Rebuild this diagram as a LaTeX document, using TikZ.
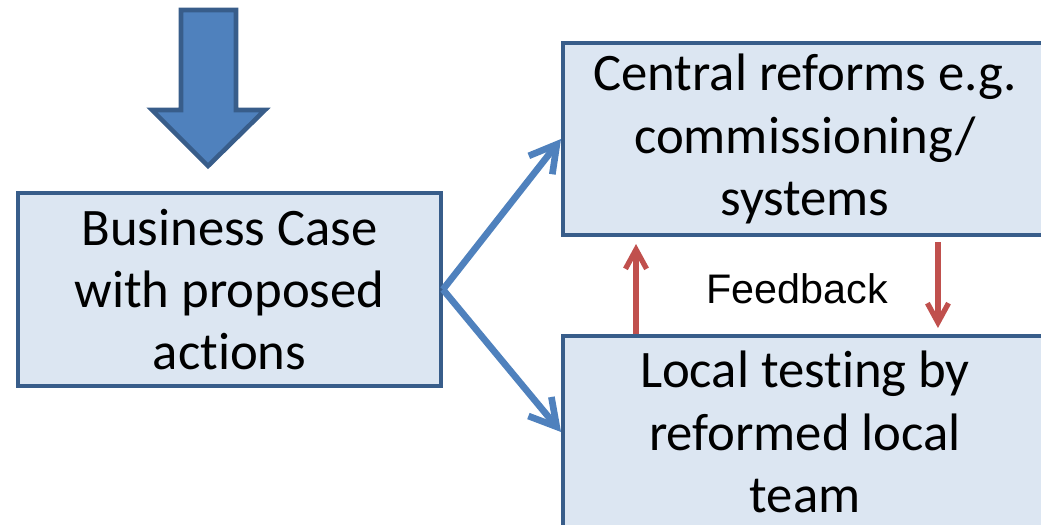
\documentclass[tikz,border=0pt]{standalone}
\usepackage{fontspec}
\setmainfont[Ligatures=NoCommon]{Carlito}
\newfontfamily\arialfont{Liberation Sans}
\usetikzlibrary{arrows.meta}

\definecolor{boxfill}{HTML}{DCE6F2}
\definecolor{boxline}{HTML}{385D8A}
\definecolor{flowblue}{HTML}{4F81BD}
\definecolor{fbred}{HTML}{C0504D}

\tikzset{
  stepbox/.style={draw=boxline, fill=boxfill, line width=2.3pt, align=center,
    inner sep=0pt, font=\fontsize{30}{35.5}\selectfont},
  flow/.style={draw=flowblue, line width=3.8pt,
    -{Straight Barb[length=15pt,width=17pt]}},
  fback/.style={draw=fbred, line width=3pt,
    -{Straight Barb[length=11pt,width=12pt]}}
}

\begin{document}
\begin{tikzpicture}[x=0.02cm,y=-0.02cm]
            \useasboundingbox (0,0) rectangle (1041,524);
            \clip (0,0) rectangle (1041,524);

            % big arrow on top
            \draw[draw=boxline,fill=flowblue,line width=2.6pt] (181,10) -- (236,10) -- (236,110) -- (265,110) -- (208,166) -- (152,110) -- (181,110) -- cycle;

            \node[stepbox,minimum width=8.46cm,minimum height=3.86cm] (biz) at (229.5,289.5) {Business Case\\with proposed\\actions};
            \node[stepbox,minimum width=9.68cm,minimum height=3.84cm] (central) at (805,139) {Central reforms e.g.\\commissioning/\\systems};
            \node[stepbox,minimum width=9.68cm,minimum height=3.84cm] (local) at (805,432) {Local testing by\\reformed local\\team};

            \draw[flow] (biz.east) -- (central.west);
            \draw[flow] (biz.east) -- (local.west);

            \draw[fback] ([xshift=1.5cm]local.north west) -- ([xshift=1.5cm,yshift=-0.14cm]central.south west);
            \draw[fback] ([xshift=7.54cm,yshift=-0.1cm]central.south west) -- ([xshift=7.54cm,yshift=0.12cm]local.north west);
            \node[font=\arialfont\fontsize{23.5}{28}\selectfont] (fb) at (797,289) {Feedback};
\end{tikzpicture}
\end{document}
